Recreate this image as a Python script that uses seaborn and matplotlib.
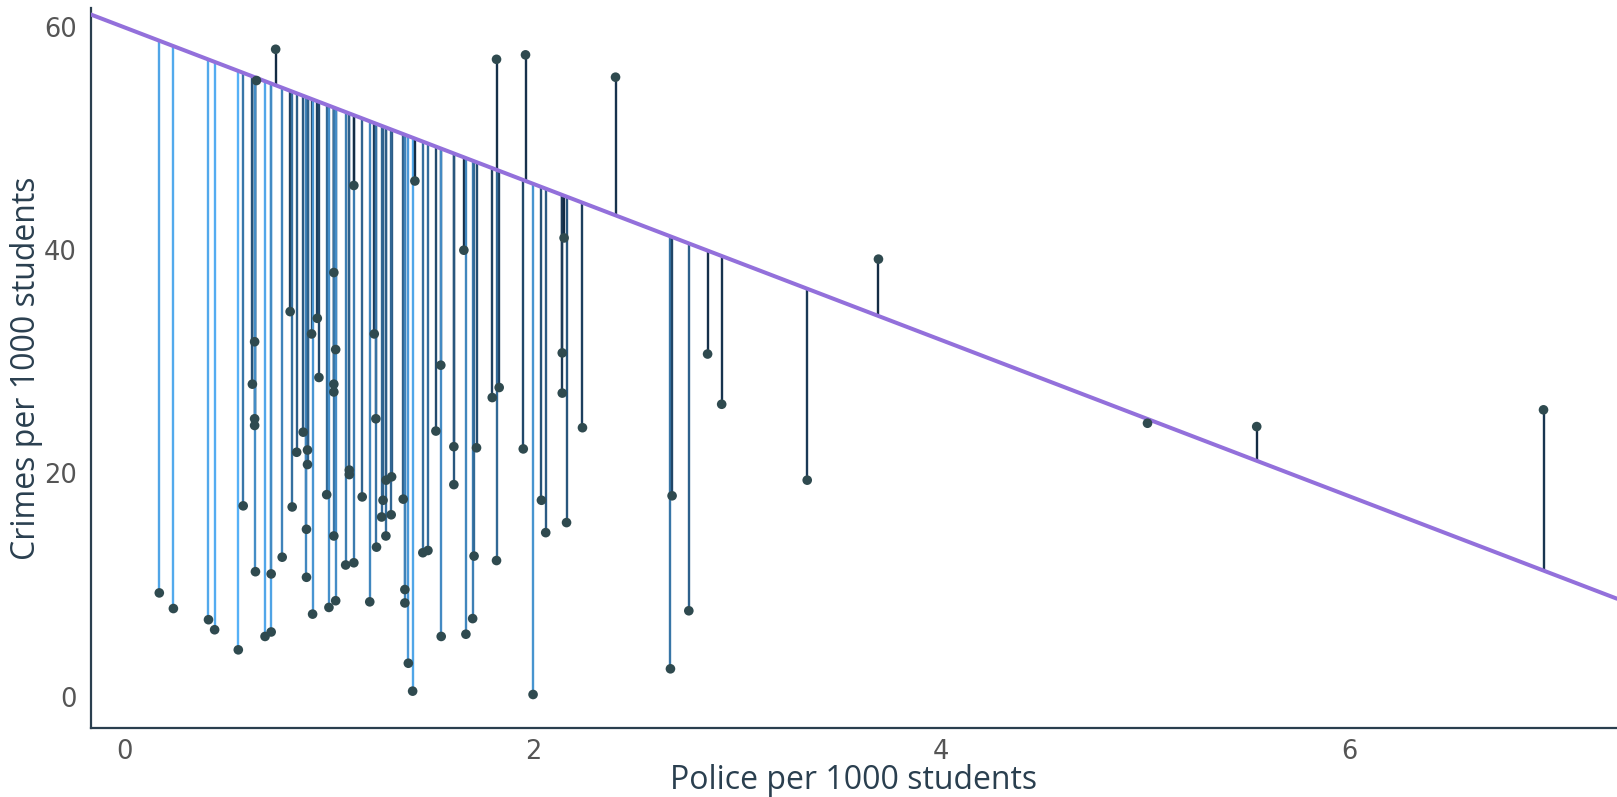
import numpy as np
import pandas as pd
import matplotlib
matplotlib.use("Agg")
import matplotlib.pyplot as plt
from matplotlib.colors import LinearSegmentedColormap, Normalize
import seaborn as sns

# ---- data ----
police = [0.169, 0.238, 0.41, 0.44, 0.556, 0.58, 0.625, 0.636, 0.636, 0.636,
          0.64, 0.645, 0.687, 0.717, 0.717, 0.739, 0.771, 0.81, 0.82, 0.842,
          0.874, 0.89, 0.89, 0.895, 0.895, 0.915, 0.92, 0.943, 0.951, 0.989,
          1.0, 1.024, 1.033, 1.024, 1.024, 1.024, 1.033, 1.082, 1.1, 1.1,
          1.122, 1.122, 1.163, 1.2, 1.222, 1.23, 1.233, 1.258, 1.265, 1.279,
          1.28, 1.307, 1.305, 1.364, 1.372, 1.372, 1.389, 1.41, 1.421, 1.46,
          1.485, 1.524, 1.548, 1.55, 1.612, 1.612, 1.661, 1.671, 1.704, 1.711,
          1.723, 1.8, 1.834, 1.821, 1.821, 1.952, 1.963, 2.0, 2.041, 2.062,
          2.143, 2.143, 2.152, 2.164, 2.242, 2.404, 2.673, 2.681, 2.763, 2.855,
          2.924, 3.343, 3.692, 5.01, 5.545, 6.95]
crimes = [9.3, 7.9, 6.9, 6.0, 4.2, 17.1, 28.0, 31.8, 24.9, 24.3,
          11.2, 55.2, 5.4, 5.8, 11.0, 58.0, 12.5, 34.5, 17.0, 21.9,
          23.7, 15.0, 10.7, 22.1, 20.8, 32.5, 7.4, 33.9, 28.6, 18.1,
          8.0, 38.0, 31.1, 28.0, 27.3, 14.4, 8.6, 11.8, 20.3, 19.9,
          12.0, 45.8, 17.9, 8.5, 32.5, 24.9, 13.4, 16.1, 17.6, 14.4,
          19.4, 19.7, 16.3, 17.7, 9.6, 8.4, 3.0, 0.5, 46.2, 12.9,
          13.1, 23.8, 29.7, 5.4, 22.4, 19.0, 40.0, 5.6, 7.0, 12.6,
          22.3, 26.8, 27.7, 12.2, 57.1, 22.2, 57.5, 0.2, 17.6, 14.7,
          30.8, 27.2, 41.1, 15.6, 24.1, 55.5, 2.5, 18.0, 7.7, 30.7,
          26.2, 19.4, 39.2, 24.5, 24.2, 25.7]
fit_intercept = 59.95
fit_slope = -7.0
x_ticks = [0, 2, 4, 6]
y_ticks = [0, 20, 40, 60]
x_label = "Police per 1000 students"
y_label = "Crimes per 1000 students"

df = pd.DataFrame({"police": police, "crimes": crimes})
df["fitted"] = fit_intercept + fit_slope * df["police"]
df["sq_resid"] = (df["crimes"] - df["fitted"]) ** 2

sns.set_theme(style="white")
plt.rcParams["font.family"] = ["DejaVu Sans"]

fig = plt.figure(figsize=(16.17, 7.97), dpi=100)
ax = fig.add_axes([0.0561, 0.0866, 0.9439, 0.9034])

xlim = (-0.167, 7.31)
ylim = (-2.8, 61.7)
ax.set_xlim(*xlim)
ax.set_ylim(*ylim)

cmap = LinearSegmentedColormap.from_list("resid", ["#132B43", "#56B1F7"])
norm = Normalize(vmin=df["sq_resid"].min(), vmax=df["sq_resid"].max())
ax.vlines(df["police"], df["fitted"], df["crimes"],
          colors=cmap(norm(df["sq_resid"].values)), linewidth=1.7, zorder=2)

line_df = pd.DataFrame({"police": list(xlim)})
line_df["fitted"] = fit_intercept + fit_slope * line_df["police"]
sns.lineplot(data=line_df, x="police", y="fitted", ax=ax, color="#9370DB",
             linewidth=2.9, zorder=3)

sns.scatterplot(data=df, x="police", y="crimes", ax=ax, color="#2F4A4F",
                s=48, edgecolor="none", linewidth=0, zorder=4)

ax.set_xticks(x_ticks)
ax.set_yticks(y_ticks)
ax.tick_params(axis="both", length=0, labelsize=18.5, labelcolor="#555555")
ax.tick_params(axis="x", pad=8)
ax.tick_params(axis="y", pad=10)
ax.set_xlabel(x_label, fontsize=23, color="#2a3f4f", family=["Open Sans", "DejaVu Sans"], labelpad=-1)
ax.set_ylabel(y_label, fontsize=23, color="#2a3f4f", family=["Open Sans", "DejaVu Sans"], labelpad=1)

for side in ["top", "right"]:
    ax.spines[side].set_visible(False)
for side in ["left", "bottom"]:
    ax.spines[side].set_color("#2a3f4f")
    ax.spines[side].set_linewidth(1.6)
ax.grid(False)

fig.savefig("out.png", dpi=100)
